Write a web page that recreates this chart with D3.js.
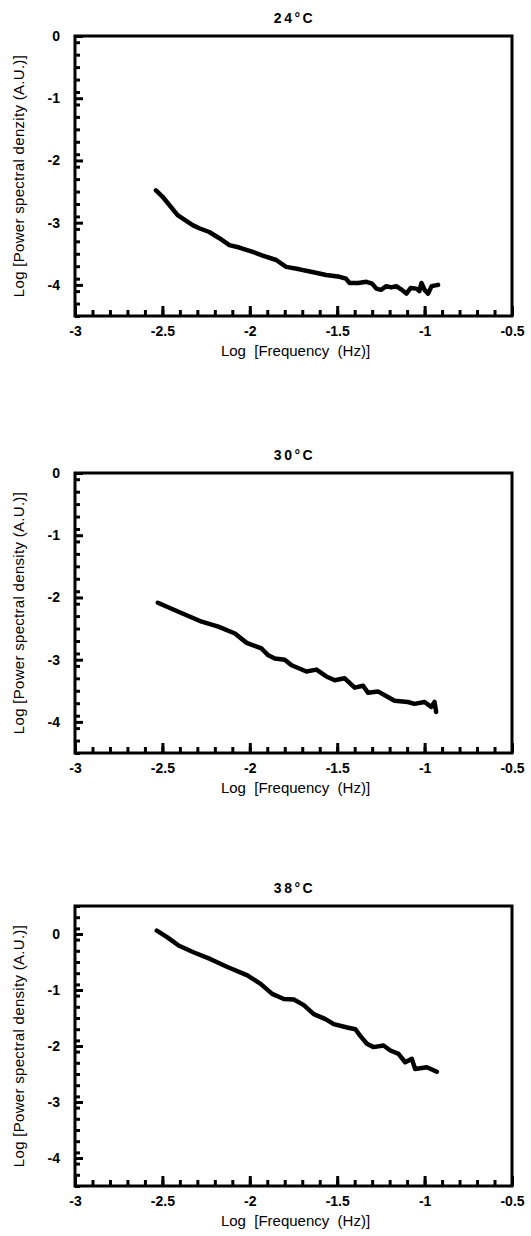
<!DOCTYPE html>
<html>
<head>
<meta charset="utf-8">
<script src="https://cdn.jsdelivr.net/npm/d3@7"></script>
<style>
  body { margin: 0; background: #fff; }
  svg { display: block; }
  text { font-family: "Liberation Sans", Arial, sans-serif; fill: #000; }
</style>
</head>
<body>
<div id="chart"></div>
<script>
// panel titles and y-axis titles (first one keeps the original "denzity" spelling)
const titles = ['24\u00b0C', '30\u00b0C', '38\u00b0C'];
const yTitles = [
  'Log [Power spectral denzity (A.U.)]',
  'Log [Power spectral density (A.U.)]',
  'Log [Power spectral density (A.U.)]'
];
const yDomains = [[-4.5, 0], [-4.5, 0], [-4.5, 0.5]];
const xTicks = [-3, -2.5, -2, -1.5, -1, -0.5];
const yTicks = [0, -1, -2, -3, -4];

// log frequency (Hz) and log PSD
const freq24 = [-2.537, -2.50, -2.413, -2.327, -2.289, -2.232, -2.174, -2.117, -2.06, -1.983, -1.926, -1.849, -1.792, -1.716, -1.649, -1.563, -1.486, -1.45, -1.429, -1.38, -1.333, -1.30, -1.276, -1.25, -1.219, -1.19, -1.162, -1.13, -1.104, -1.08, -1.047, -1.03, -1.018, -1.0, -0.98, -0.96, -0.923];
const psd24  = [-2.48, -2.58, -2.88, -3.04, -3.09, -3.15, -3.25, -3.36, -3.40, -3.47, -3.53, -3.60, -3.71, -3.75, -3.79, -3.84, -3.87, -3.90, -3.97, -3.97, -3.95, -3.98, -4.06, -4.08, -4.02, -4.04, -4.02, -4.08, -4.14, -4.05, -4.06, -4.10, -3.97, -4.08, -4.14, -4.02, -4.00];

const freq30 = [-2.526, -2.408, -2.275, -2.18, -2.085, -2.018, -1.933, -1.894, -1.857, -1.80, -1.761, -1.676, -1.619, -1.562, -1.514, -1.457, -1.40, -1.352, -1.324, -1.267, -1.21, -1.172, -1.096, -1.058, -1.0, -0.962, -0.943, -0.934];
const psd30  = [-2.085, -2.23, -2.39, -2.47, -2.58, -2.73, -2.82, -2.93, -2.98, -3.00, -3.09, -3.19, -3.16, -3.27, -3.33, -3.30, -3.45, -3.42, -3.53, -3.51, -3.60, -3.66, -3.68, -3.71, -3.68, -3.76, -3.68, -3.84];

const freq38 = [-2.532, -2.471, -2.405, -2.319, -2.224, -2.128, -2.014, -1.938, -1.872, -1.805, -1.748, -1.691, -1.634, -1.567, -1.52, -1.443, -1.396, -1.368, -1.33, -1.292, -1.235, -1.196, -1.149, -1.111, -1.073, -1.054, -0.987, -0.93];
const psd38  = [0.06, -0.06, -0.21, -0.33, -0.45, -0.59, -0.74, -0.89, -1.07, -1.16, -1.17, -1.27, -1.43, -1.52, -1.61, -1.67, -1.70, -1.82, -1.96, -2.02, -1.99, -2.08, -2.14, -2.29, -2.23, -2.41, -2.38, -2.46];

const series = [[freq24, psd24], [freq30, psd30], [freq38, psd38]];

const width = 531, height = 1236;
const panelTops = [36, 473, 906];
const left = 75, right = 512, plotH = 280;

const svg = d3.select('#chart').append('svg')
  .attr('width', width).attr('height', height);

series.forEach(([fx, py], i) => {
  const top = panelTops[i];
  const x = d3.scaleLinear().domain([-3, -0.5]).range([left, right]);
  const y = d3.scaleLinear().domain(yDomains[i]).range([top + plotH, top]);
  const g = svg.append('g');

  // title
  g.append('text').attr('x', (left + right) / 2 + 1).attr('y', top - 13)
    .attr('text-anchor', 'middle').attr('font-size', '14px').attr('font-weight', 'bold')
    .attr('letter-spacing', '2.5px').text(titles[i]);

  // minor + major ticks, pointing inward
  const xMinor = d3.range(-3, -0.5 + 1e-9, 0.1).map(v => +v.toFixed(2));
  g.append('g').attr('transform', `translate(0,${top + plotH})`)
    .call(d3.axisBottom(x).tickValues(xMinor).tickSize(-6).tickFormat(''))
    .call(a => a.select('.domain').remove())
    .selectAll('line').attr('stroke', '#000').attr('stroke-width', 3);
  g.append('g').attr('transform', `translate(0,${top + plotH})`)
    .call(d3.axisBottom(x).tickValues(xTicks).tickSize(-10).tickPadding(10)
      .tickFormat(d => String(d)))
    .call(a => a.select('.domain').remove())
    .call(a => a.selectAll('line').attr('stroke', '#000').attr('stroke-width', 3))
    .selectAll('text').attr('font-size', '14px').attr('font-weight', 'bold');

  const [y0, y1] = yDomains[i];
  const yMinor = d3.range(y0, y1 + 1e-9, 0.2).map(v => +v.toFixed(2));
  g.append('g').attr('transform', `translate(${left},0)`)
    .call(d3.axisLeft(y).tickValues(yMinor).tickSize(-5).tickFormat(''))
    .call(a => a.select('.domain').remove())
    .selectAll('line').attr('stroke', '#000').attr('stroke-width', 3);
  g.append('g').attr('transform', `translate(${left},0)`)
    .call(d3.axisLeft(y).tickValues(yTicks).tickSize(-8).tickPadding(15)
      .tickFormat(d => String(d)))
    .call(a => a.select('.domain').remove())
    .call(a => a.selectAll('line').attr('stroke', '#000').attr('stroke-width', 3))
    .selectAll('text').attr('font-size', '14px').attr('font-weight', 'bold');

  // frame
  g.append('rect').attr('x', left).attr('y', top)
    .attr('width', right - left).attr('height', plotH)
    .attr('fill', 'none').attr('stroke', '#000').attr('stroke-width', 3);

  // curve
  const pts = fx.map((f, k) => [f, py[k]]);
  g.append('path').datum(pts)
    .attr('fill', 'none').attr('stroke', '#000').attr('stroke-width', 4.5)
    .attr('stroke-linejoin', 'round').attr('stroke-linecap', 'round')
    .attr('d', d3.line().x(d => x(d[0])).y(d => y(d[1])));

  // axis titles
  g.append('text').attr('x', (left + right) / 2 + 2).attr('y', top + plotH + 40)
    .attr('text-anchor', 'middle').attr('font-size', '15px')
    .attr('xml:space', 'preserve').style('white-space', 'pre')
    .text('Log  [Frequency  (Hz)]');
  g.append('text')
    .attr('transform', `translate(24,${top + plotH / 2}) rotate(-90)`)
    .attr('text-anchor', 'middle').attr('font-size', '15px')
    .attr('letter-spacing', '0.3px')
    .text(yTitles[i]);
});
</script>
</body>
</html>
